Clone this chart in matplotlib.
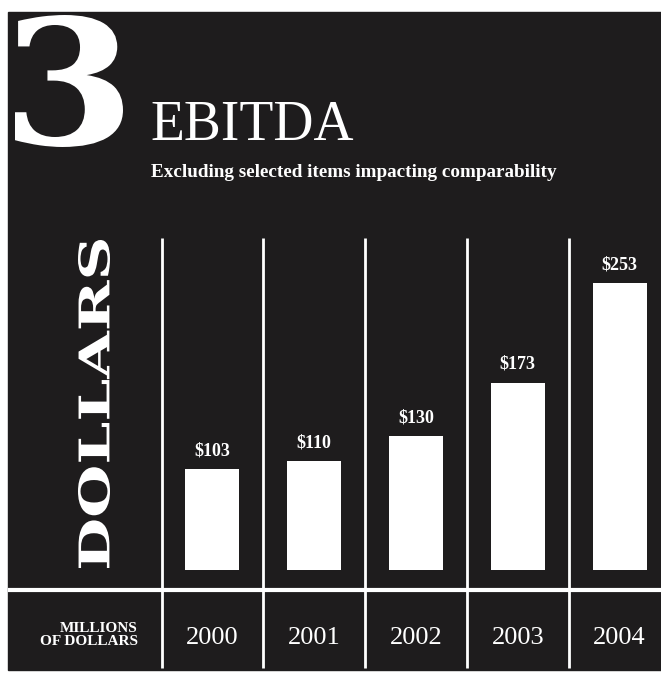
import numpy as np
import matplotlib
matplotlib.use('Agg')
import matplotlib.pyplot as plt
from matplotlib.patches import Rectangle, PathPatch
from matplotlib.textpath import TextPath
from matplotlib.font_manager import FontProperties
from matplotlib.transforms import Affine2D

years = ['2000', '2001', '2002', '2003', '2004']
ebitda = [103, 110, 130, 173, 253]
value_labels = ['$103', '$110', '$130', '$173', '$253']

INK = '#1e1c1d'
SERIF = 'Liberation Serif'
W, H = 661, 673

fig = plt.figure(figsize=(W / 100, H / 100), dpi=100, facecolor='white')

# background layer in pixel coords (y down)
bg = fig.add_axes([0, 0, 1, 1])
bg.set_xlim(0, W)
bg.set_ylim(H, 0)
bg.axis('off')
bg.add_patch(Rectangle((8, 12), W - 8, 658, color=INK, zorder=0))
bg.plot([8, W], [590, 590], color='white', lw=3, solid_capstyle='butt')


def boxed_text(s, left, top, width, height, vertical=False):
    # glyph outlines stretched into a pixel box (heavy display type)
    tp = TextPath((0, 0), s, size=100,
                  prop=FontProperties(family='DejaVu Serif', weight='bold'))
    e = tp.get_extents()
    if vertical:
        # reads bottom to top
        m = [[0, -width / e.height, left + width + width * e.y0 / e.height],
             [-height / e.width, 0, top + height + height * e.x0 / e.width],
             [0, 0, 1]]
    else:
        m = [[width / e.width, 0, left - width * e.x0 / e.width],
             [0, -height / e.height, top + height + height * e.y0 / e.height],
             [0, 0, 1]]
    bg.add_patch(PathPatch(tp, transform=Affine2D(np.array(m)) + bg.transData,
                           facecolor='white', edgecolor='none'))


boxed_text('3', 15, 15, 108, 132)
boxed_text('DOLLARS', 78, 240, 32, 328, vertical=True)

bg.text(150, 140, 'EBITDA', color='white', fontsize=40, family=SERIF,
        ha='left', va='baseline')
bg.text(151, 177, 'Excluding selected items impacting comparability',
        color='white', fontsize=13.8, family=SERIF, weight='bold',
        ha='left', va='baseline')
bg.text(138, 632, 'MILLIONS', color='white', fontsize=11, family=SERIF,
        weight='bold', ha='right', va='baseline')
bg.text(138, 645, 'OF DOLLARS', color='white', fontsize=11, family=SERIF,
        weight='bold', ha='right', va='baseline')

# bar panel
x0, col = 161.5, 101.8
base_px, top_px = 570, 238
ax = fig.add_axes([x0 / W, 1 - base_px / H, 5 * col / W, (base_px - top_px) / H])
ax.patch.set_visible(False)
for s in ax.spines.values():
    s.set_visible(False)

x = np.arange(len(years))
ax.bar(x, ebitda, width=0.53, color='white', zorder=2)
ax.set_xlim(-0.5, 4.5)
ax.set_ylim(22, 289.5)
ax.set_yticks([])
ax.set_xticks(x, years)
ax.tick_params(axis='x', length=0, pad=41, labelsize=19, labelcolor='white')
for lab in ax.get_xticklabels():
    lab.set_family(SERIF)

for i, v in enumerate(ebitda):
    ax.annotate(value_labels[i], (x[i], v), xytext=(0, 7),
                textcoords='offset points', ha='center', va='bottom',
                color='white', fontsize=13, family=SERIF, weight='bold')

ax.vlines(x - 0.5, -0.295, 1.0, transform=ax.get_xaxis_transform(),
          color='white', lw=2, clip_on=False)

fig.savefig('out.png', dpi=100, facecolor='white')
